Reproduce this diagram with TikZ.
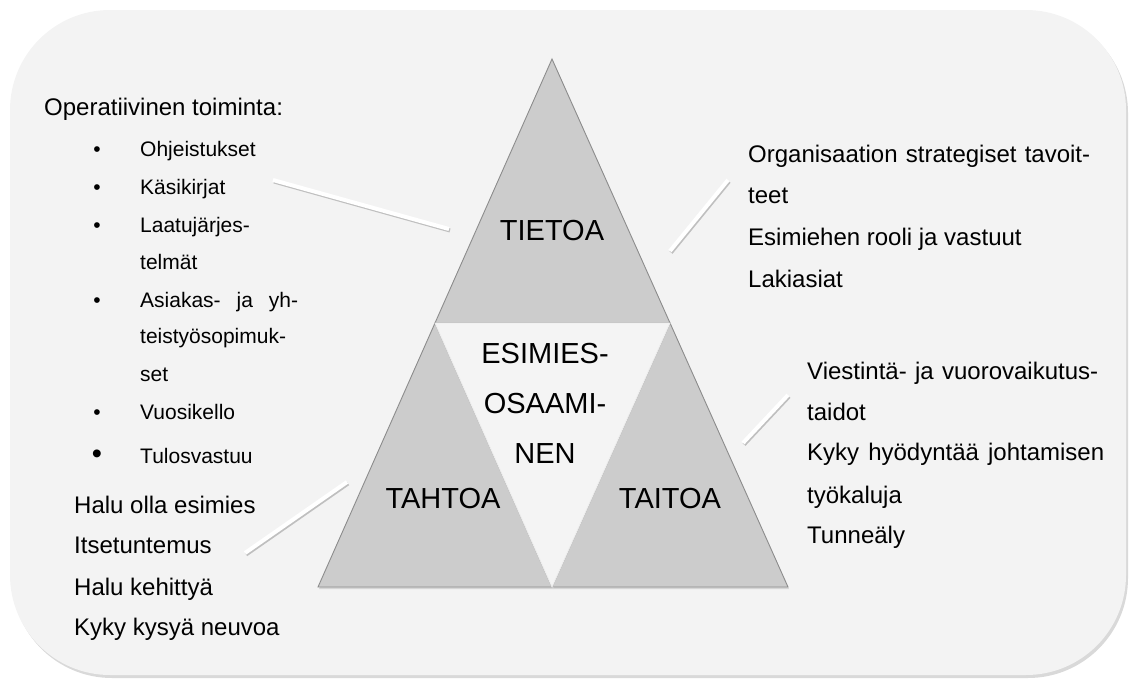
\documentclass[tikz,border=0pt]{standalone}
\usepackage{fontspec}
\setmainfont{Liberation Sans}
\usetikzlibrary{shadows}

\definecolor{panelgray}{HTML}{F3F3F3}
\definecolor{midfill}{HTML}{F4F4F4}
\definecolor{trifill}{HTML}{CCCCCC}
\definecolor{triedge}{HTML}{8C8C8C}

\begin{document}
\begin{tikzpicture}[x=1pt, y=-1pt,
    tri/.style={fill=trifill, draw=triedge, line width=0.9pt,
      drop shadow={opacity=0.25, shadow xshift=1pt, shadow yshift=-2pt}},
    txt/.style={anchor=base west, inner sep=0pt, font=\fontsize{24}{24}\selectfont},
    item/.style={anchor=base west, inner sep=0pt, font=\fontsize{21}{21}\selectfont},
    dot/.style={anchor=base, inner sep=0pt, font=\fontsize{21}{21}\selectfont},
    bigdot/.style={anchor=base, inner sep=0pt, font=\fontsize{29}{29}\selectfont},
    big/.style={anchor=base, inner sep=0pt, font=\fontsize{29}{29}\selectfont},
    leader/.style={draw=white, line width=4pt},
    leadershade/.style={draw=black!25, line width=4pt}]

    \useasboundingbox (0,0) rectangle (1130,681);

    % --- Background panel ---
    \fill[panelgray, rounded corners=100pt,
      drop shadow={opacity=0.3, shadow xshift=2pt, shadow yshift=-3pt}]
      (10,10) rectangle (1126,675);

    % --- Triangle corners ---
    \coordinate (Top) at (552,59);
    \coordinate (ML) at (435,323);
    \coordinate (MR) at (670,323);
    \coordinate (BL) at (318,587);
    \coordinate (BM) at (552,587);
    \coordinate (BR) at (788,587);

    % Outer triangles
    \draw[tri] (Top) -- (MR) -- (ML) -- cycle;
    \draw[tri] (ML) -- (BM) -- (BL) -- cycle;
    \draw[tri] (MR) -- (BR) -- (BM) -- cycle;

    % Centre triangle
    \draw[fill=midfill, draw=white!85!gray, line width=0.9pt] (ML) -- (MR) -- (BM) -- cycle;

    % Triangle labels
    \node[big] (tieto) at (552,240) {TIETOA};
    \node[big] (osaam1) at (545,363) {ESIMIES-};
    \node[big] (osaam2) at (545,413) {OSAAMI-};
    \node[big] (osaam3) at (545,463) {NEN};
    \node[big] (tahto) at (443,508) {TAHTOA};
    \node[big] (taito) at (670,508) {TAITOA};

    % --- Left: operative work ---
    \node[txt] (oper) at (44,115) {Operatiivinen toiminta:};

    \node[dot] (d1) at (97,156) {•};
    \node[item] (ohje) at (140,156) {Ohjeistukset};
    \node[dot] (d2) at (97,194) {•};
    \node[item] (kasi) at (140,194) {Käsikirjat};
    \node[dot] (d3) at (97,232) {•};
    \node[item] (laatu1) at (140,232) {Laatujärjes-};
    \node[item] (laatu2) at (140,269) {telmät};
    \node[dot] (d4) at (97,307) {•};
    \node[item] (asiak1) at (140,307) {\makebox[158pt][s]{Asiakas- ja yh-}};
    \node[item] (asiak2) at (140,343) {teistyösopimuk-};
    \node[item] (asiak3) at (140,381) {set};
    \node[dot] (d5) at (97,419) {•};
    \node[item] (vuosi) at (140,419) {Vuosikello};
    \node[bigdot] (d6) at (97,463) {•};
    \node[item] (tulos) at (140,463) {Tulosvastuu};

    % --- Left: will ---
    \node[txt] (halu1) at (74,513) {Halu olla esimies};
    \node[txt] (itse) at (74,553) {Itsetuntemus};
    \node[txt] (halu2) at (74,595) {Halu kehittyä};
    \node[txt] (kysy) at (74,635) {Kyky kysyä neuvoa};

    % --- Right: knowledge ---
    \node[txt] (org1) at (748,162) {\makebox[342pt][s]{Organisaation strategiset tavoit-}};
    \node[txt] (org2) at (748,203) {teet};
    \node[txt] (rooli) at (748,245) {Esimiehen rooli ja vastuut};
    \node[txt] (laki) at (748,287) {Lakiasiat};

    % --- Right: skills ---
    \node[txt] (viest1) at (807,379) {\makebox[291pt][s]{Viestintä- ja vuorovaikutus-}};
    \node[txt] (viest2) at (807,420) {taidot};
    \node[txt] (kyky1) at (807,460) {\makebox[297pt][s]{Kyky hyödyntää johtamisen}};
    \node[txt] (kyky2) at (807,503) {työkaluja};
    \node[txt] (tunne) at (807,543) {Tunneäly};

    % --- Leader lines ---
    \coordinate (tietoLa) at (273,180);
    \coordinate (tietoLb) at (449,229);
    \coordinate (tietoRa) at (670,251);
    \coordinate (tietoRb) at (728,180);
    \coordinate (tahtoa) at (245,553);
    \coordinate (tahtob) at (347,482);
    \coordinate (taitoa) at (743,443);
    \coordinate (taitob) at (788,395);

    \foreach \a/\b in {tietoLa/tietoLb, tietoRa/tietoRb, tahtoa/tahtob, taitoa/taitob} {
        \draw[leadershade] ([shift={(1,1.5)}]\a) -- ([shift={(1,1.5)}]\b);
        \draw[leader] (\a) -- (\b);
    }

\end{tikzpicture}
\end{document}
